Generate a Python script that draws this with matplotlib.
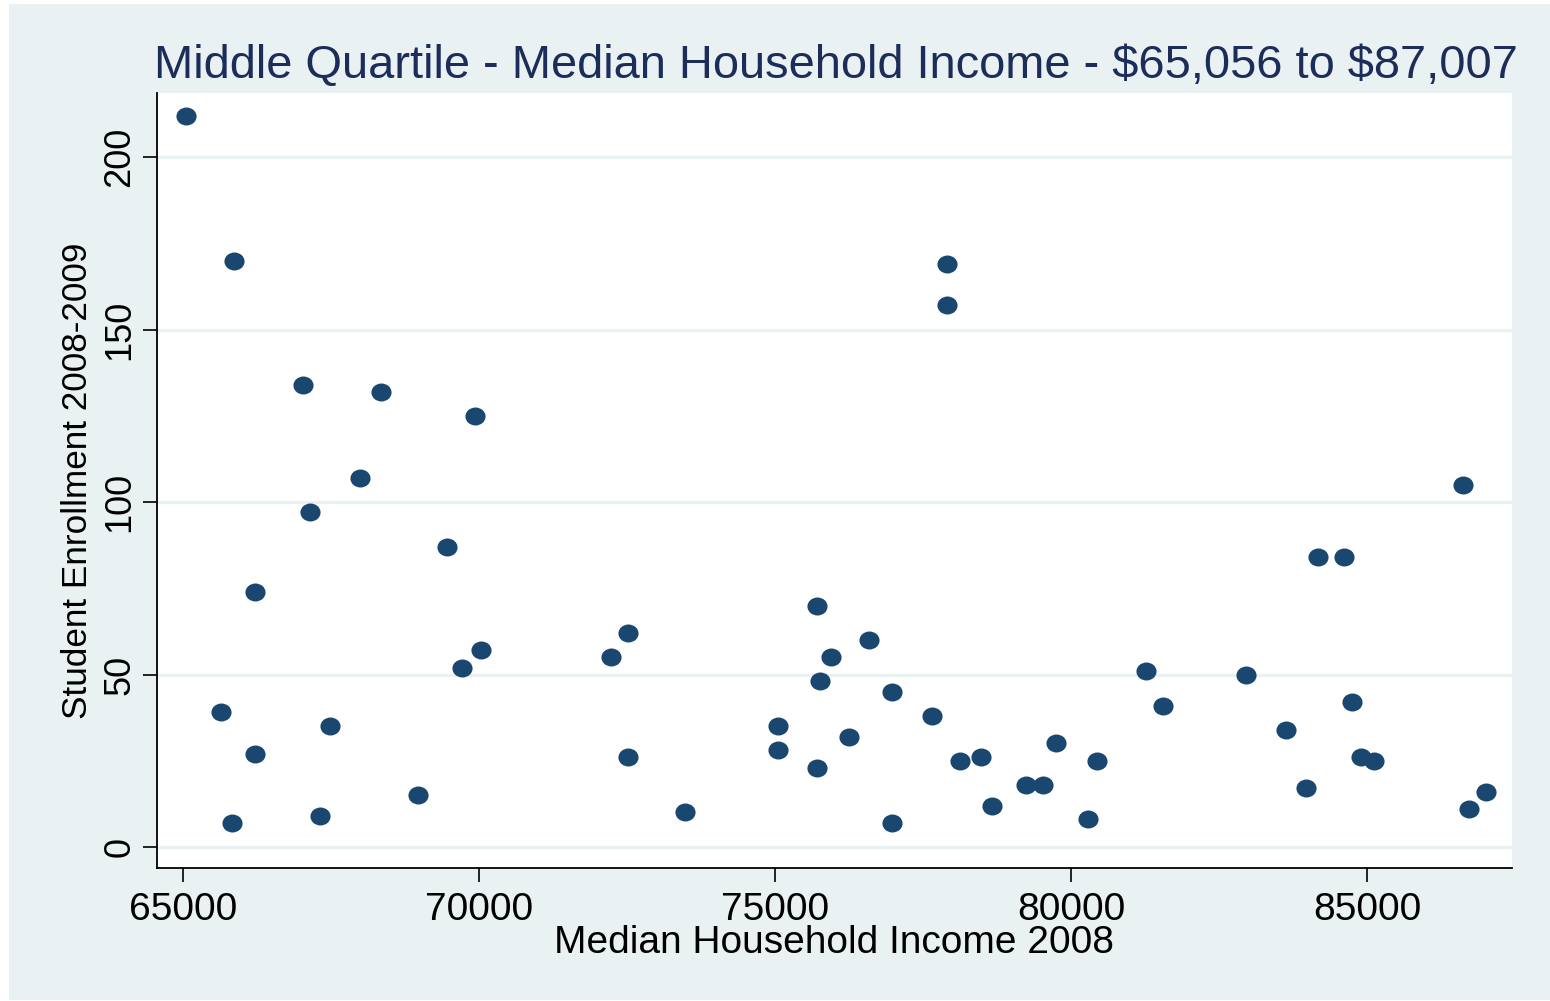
import matplotlib
matplotlib.use("Agg")
import matplotlib.pyplot as plt
from matplotlib.path import Path
from matplotlib.patches import Rectangle
import numpy as np

# median household income 2008 vs. student enrollment 2008-2009
income = [65056, 65861, 65642, 65828, 66216, 66216, 67027, 67145, 67314, 67483,
          67990, 68345, 68970, 69459, 69713, 69932, 70034, 72230, 72517, 72517,
          73480, 75051, 75051, 75709, 75760, 75709, 75946, 76250, 76588, 76976,
          76976, 77652, 77905, 77905, 78125, 78480, 78666, 79240, 79527, 79747,
          80287, 80439, 81267, 81554, 82956, 83632, 83970, 84172, 84611, 84747,
          84899, 85118, 86622, 86723, 87007]
enrollment = [212, 170, 39, 7, 74, 27, 134, 97, 9, 35,
              107, 132, 15, 87, 52, 125, 57, 55, 62, 26,
              10, 35, 28, 70, 48, 23, 55, 32, 60, 45,
              7, 38, 169, 157, 25, 26, 12, 18, 18, 30,
              8, 25, 51, 41, 50, 34, 17, 84, 84, 42,
              26, 25, 105, 11, 16]

x_ticks = [65000, 70000, 75000, 80000, 85000]
y_ticks = [0, 50, 100, 150, 200]

title = r"Middle Quartile - Median Household Income - \$65,056 to \$87,007"
x_label = "Median Household Income 2008"
y_label = "Student Enrollment 2008-2009"

bg = "#eaf1f3"
navy = "#1a476f"
title_col = "#1c2d5a"

plt.rcParams["font.family"] = ["Liberation Sans", "DejaVu Sans"]

fig = plt.figure(figsize=(15.5, 10.01), dpi=100, facecolor="white")
W, H = 1550, 1001
fig.patches.append(Rectangle((9 / W, 1 / H), 1 - 9 / W, 996 / H,
                             transform=fig.transFigure, facecolor=bg,
                             edgecolor="none", zorder=-10))

ax = fig.add_axes([157 / W, (H - 868) / H, (1512 - 157) / W, (868 - 93) / H])
ax.set_facecolor("white")

# slightly wide ellipse marker
circ = Path.unit_circle()
dot = Path(circ.vertices * np.array([1.12, 1.0]), circ.codes)
ax.plot(income, enrollment, linestyle="none", marker=dot, markersize=14.5,
        color=navy, markeredgewidth=0, zorder=3)

ax.set_xlim(64560, 87450)
ax.set_ylim(-6.1, 218.6)
ax.set_xticks(x_ticks)
ax.set_yticks(y_ticks)
ax.set_xticklabels([str(v) for v in x_ticks])
ax.set_yticklabels([str(v) for v in y_ticks], rotation=90, va="center")

for v in y_ticks:
    ax.axhline(v, color=bg, linewidth=2.3, zorder=1)

for side in ["top", "right"]:
    ax.spines[side].set_visible(False)
for side in ["left", "bottom"]:
    ax.spines[side].set_linewidth(1.3)
    ax.spines[side].set_color("black")

ax.tick_params(axis="both", direction="out", length=10, width=1.2,
               colors="black")
ax.tick_params(axis="x", labelsize=28, pad=7)
ax.tick_params(axis="y", labelsize=26, pad=4)

ax.set_xlabel(x_label, fontsize=28, labelpad=-2)
ax.set_ylabel(y_label, fontsize=25.3, labelpad=6)
fig.text(836 / W, 1 - 66 / H, title, fontsize=33.8, color=title_col,
         ha="center", va="center")

fig.savefig("out.png", dpi=100, facecolor=fig.get_facecolor())
